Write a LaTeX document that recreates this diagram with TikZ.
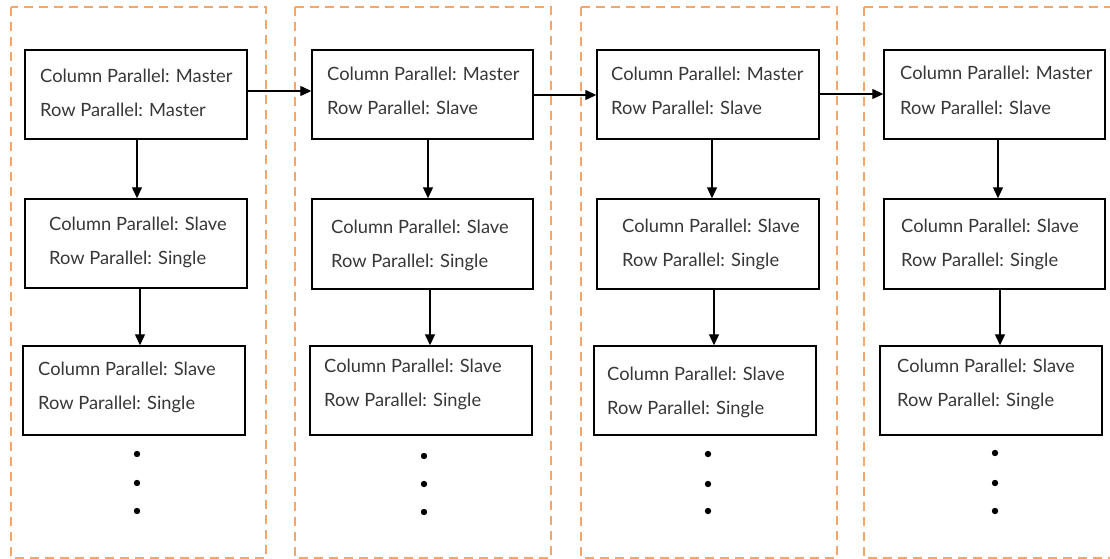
\documentclass[tikz,border=0pt]{standalone}
\usepackage{fontspec}
\setmainfont{Lato}
\usetikzlibrary{arrows.meta}
\definecolor{dashor}{RGB}{246,166,104}
\definecolor{txtc}{RGB}{55,55,55}
\tikzset{
  frame/.style={draw=dashor, line width=1.4pt, dash pattern=on 9pt off 6pt},
  cell/.style={draw=black, line width=1.4pt, rectangle, inner sep=0pt},
  txt/.style={anchor=base west, inner sep=0pt, text=txtc, font=\fontsize{18.3}{21}\selectfont},
  arr/.style={draw=black, line width=1.3pt, -{Triangle[length=11pt,width=10pt]}},
}
\newcommand{\mkcell}[9]{%
  \node[cell, minimum width=#4pt-#2pt, minimum height=#5pt-#3pt] (#1) at ({(#2+#4)/2},{(#3+#5)/2}) {};
  \node[txt] (#1a) at (#6,#7) {#8};
  \node[txt] (#1b) at (#6,#7+34) {#9};
}
\begin{document}
\begin{tikzpicture}[x=1pt,y=-1pt]
\useasboundingbox (0,0) rectangle (1110,559);
% dashed frames
\draw[frame] (11,7) rectangle (266,558);
\draw[frame] (295,7) rectangle (551,558);
\draw[frame] (581,7) rectangle (837,558);
\draw[frame] (864,7) -- (1116,7);
\draw[frame] (864,7) -- (864,558) -- (1116,558);
% column 1
\mkcell{A1}{25}{50}{247}{139}{40}{83}{Column Parallel: Master}{Row Parallel: Master}
\mkcell{A2}{25}{199}{247}{288}{49}{230}{Column Parallel: Slave}{Row Parallel: Single}
\mkcell{A3}{23}{346}{245}{435}{38}{375}{Column Parallel: Slave}{Row Parallel: Single}
% column 2
\mkcell{B1}{312}{50}{533}{139}{327}{81}{Column Parallel: Master}{Row Parallel: Slave}
\mkcell{B2}{312}{199}{533}{289}{331}{233}{Column Parallel: Slave}{Row Parallel: Single}
\mkcell{B3}{310}{346}{532}{435}{324}{372}{Column Parallel: Slave}{Row Parallel: Single}
% column 3
\mkcell{C1}{597}{50}{819}{139}{611}{81}{Column Parallel: Master}{Row Parallel: Slave}
\mkcell{C2}{597}{199}{819}{289}{622}{232}{Column Parallel: Slave}{Row Parallel: Single}
\mkcell{C3}{594}{346}{816}{435}{607}{380}{Column Parallel: Slave}{Row Parallel: Single}
% column 4
\mkcell{D1}{884}{50}{1105}{139}{900}{80}{Column Parallel: Master}{Row Parallel: Slave}
\mkcell{D2}{884}{199}{1105}{289}{901}{232}{Column Parallel: Slave}{Row Parallel: Single}
\mkcell{D3}{880}{346}{1102}{435}{897}{372}{Column Parallel: Slave}{Row Parallel: Single}
% vertical arrows
\draw[arr] ([xshift=1pt]A1.south) -- ([xshift=1pt]A2.north);
\draw[arr] ([xshift=4pt]A2.south) -- ([xshift=6pt]A3.north);
\draw[arr] ([xshift=5.5pt]B1.south) -- ([xshift=5.5pt]B2.north);
\draw[arr] ([xshift=7.5pt]B2.south) -- ([xshift=9pt]B3.north);
\draw[arr] ([xshift=4pt]C1.south) -- ([xshift=4pt]C2.north);
\draw[arr] ([xshift=6pt]C2.south) -- ([xshift=9pt]C3.north);
\draw[arr] ([xshift=3.5pt]D1.south) -- ([xshift=3.5pt]D2.north);
\draw[arr] ([xshift=5.5pt]D2.south) -- ([xshift=9pt]D3.north);
% horizontal arrows
\draw[arr] ([yshift=3.5pt]A1.east) -- ([yshift=3.5pt]B1.west);
\draw[arr] ([yshift=-0.5pt]B1.east) -- ([yshift=-0.5pt]C1.west);
\draw[arr] ([yshift=0.5pt]C1.east) -- ([yshift=0.5pt]D1.west);
% continuation dots
\foreach \x/\a/\b/\c in {137/454/483/511, 424/456/484/512, 708/454/484/511, 995/453/483/511}{
  \fill (\x,\a) circle (3.2pt) (\x,\b) circle (3.2pt) (\x,\c) circle (3.2pt);
}
\end{tikzpicture}
\end{document}
